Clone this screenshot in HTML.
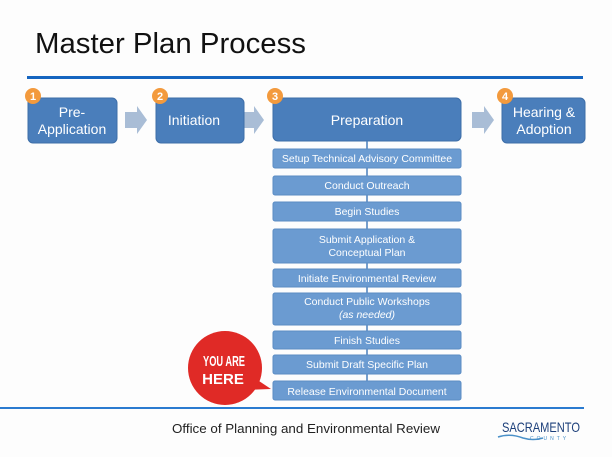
<!DOCTYPE html>
<html><head><style>body{margin:0;background:#fff}svg{display:block}text{font-family:"Liberation Sans",sans-serif}</style></head>
<body>
<svg width="612" height="457" viewBox="0 0 612 457" xmlns="http://www.w3.org/2000/svg">
<rect width="612" height="457" fill="#fdfdfd"/>
<text x="35" y="53" font-size="29" fill="#111" textLength="271" lengthAdjust="spacingAndGlyphs">Master Plan Process</text>
<rect x="27" y="76" width="556" height="3" fill="#1565c0"/>
<g fill="#a9bdd6">
<polygon points="125,112 137,112 137,106 147,120 137,134 137,128 125,128"/>
<polygon points="242,112 254,112 254,106 264,120 254,134 254,128 242,128"/>
<polygon points="472,112 484,112 484,106 494,120 484,134 484,128 472,128"/>
</g>
<g fill="#4a7ebb" stroke="#3d6ea8">
<rect x="28" y="98" width="89" height="45" rx="5"/>
<rect x="156" y="98" width="88" height="45" rx="5"/>
<rect x="273" y="98" width="188" height="43" rx="5"/>
<rect x="502" y="98" width="83" height="45" rx="5"/>
</g>
<g fill="#fff" font-size="14" text-anchor="middle">
<text x="72" y="117">Pre-</text><text x="72" y="134">Application</text>
<text x="194" y="125">Initiation</text>
<text x="367" y="125">Preparation</text>
<text x="544" y="117">Hearing &amp;</text><text x="544" y="134">Adoption</text>
</g>
<g fill="#f39a3d"><circle cx="33" cy="96" r="8"/><circle cx="160" cy="96" r="8"/><circle cx="275" cy="96" r="8"/><circle cx="505" cy="96" r="8"/></g>
<g fill="#fff" font-size="11" font-weight="bold" text-anchor="middle"><text x="33" y="100">1</text><text x="160" y="100">2</text><text x="275" y="100">3</text><text x="505" y="100">4</text></g>
<line x1="367" y1="141" x2="367" y2="400" stroke="#4a7ebb" stroke-width="1.5"/>
<g fill="#6b9bd1" stroke="#5b8cc4">
<rect x="273" y="149" width="188" height="19" rx="2"/>
<rect x="273" y="176" width="188" height="19" rx="2"/>
<rect x="273" y="202" width="188" height="19" rx="2"/>
<rect x="273" y="229" width="188" height="34" rx="2"/>
<rect x="273" y="269" width="188" height="18" rx="2"/>
<rect x="273" y="293" width="188" height="32" rx="2"/>
<rect x="273" y="331" width="188" height="18" rx="2"/>
<rect x="273" y="355" width="188" height="19" rx="2"/>
<rect x="273" y="381" width="188" height="19" rx="2"/>
</g>
<g fill="#fff" font-size="10.5" text-anchor="middle">
<text x="367" y="162">Setup Technical Advisory Committee</text>
<text x="367" y="189">Conduct Outreach</text>
<text x="367" y="215">Begin Studies</text>
<text x="367" y="243">Submit Application &amp;</text><text x="367" y="256">Conceptual Plan</text>
<text x="367" y="282">Initiate Environmental Review</text>
<text x="367" y="305">Conduct Public Workshops</text><text x="367" y="318" font-style="italic">(as needed)</text>
<text x="367" y="344">Finish Studies</text>
<text x="367" y="368">Submit Draft Specific Plan</text>
<text x="367" y="395">Release Environmental Document</text>
</g>
<polygon points="250,375 271,389 245,390" fill="#e02a26"/>
<circle cx="225" cy="368" r="37" fill="#e02a26"/>
<g fill="#fff" font-size="15" font-weight="bold" text-anchor="middle"><text x="224" y="366" textLength="42" lengthAdjust="spacingAndGlyphs">YOU ARE</text><text x="223" y="384">HERE</text></g>
<rect x="0" y="407" width="584" height="2" fill="#2a7bd0"/>
<text x="172" y="433" font-size="13" fill="#222" textLength="268" lengthAdjust="spacingAndGlyphs">Office of Planning and Environmental Review</text>
<text x="502" y="432" font-family="Liberation Serif" font-size="14" fill="#1c3f7a" textLength="78" lengthAdjust="spacingAndGlyphs">SACRAMENTO</text>
<text x="530" y="440" font-size="5" fill="#4a90c8" letter-spacing="3">COUNTY</text>
<path d="M498,437 q12,-4 25,1 q10,3 20,0" stroke="#4a90c8" stroke-width="1.5" fill="none"/>
</svg>
</body></html>
